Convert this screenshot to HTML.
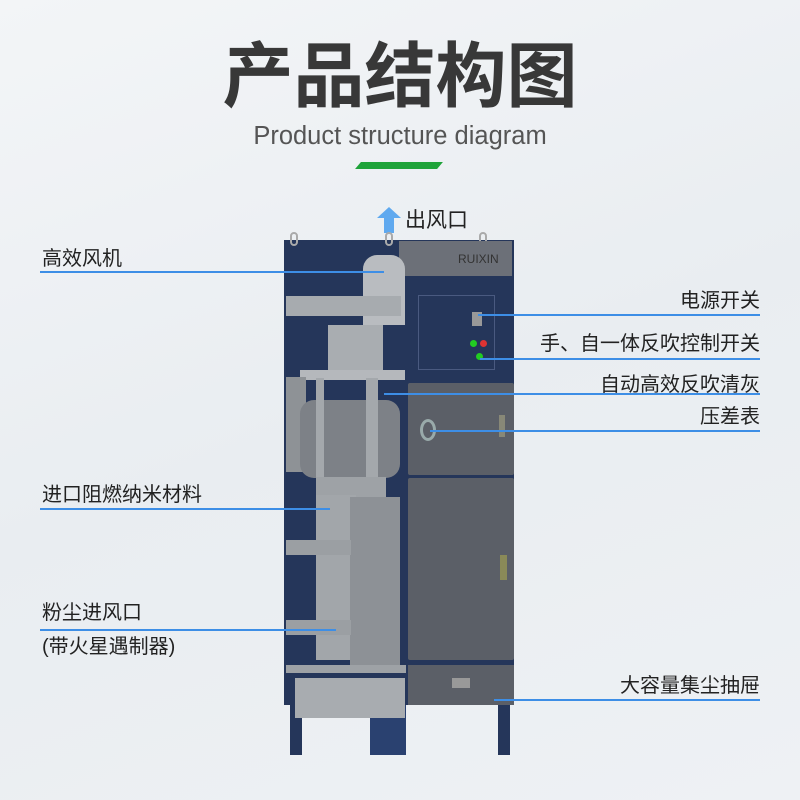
<!DOCTYPE html>
<html><head><meta charset="utf-8"><style>
*{margin:0;padding:0;box-sizing:border-box}
body{width:800px;height:800px;position:relative;overflow:hidden;background:linear-gradient(160deg,#f3f5f7 0%,#e9edf1 50%,#eef1f4 100%);font-family:"Liberation Sans","Noto Sans CJK SC",sans-serif}
.a{position:absolute}
.t{position:absolute;font-size:20px;color:#222;white-space:nowrap;line-height:1}
.l{position:absolute;height:2px;background:#3d8ee6}
</style></head><body>
<div class="a" style="left:0;top:38px;width:800px;text-align:center;font-size:71px;font-weight:bold;color:#383838;letter-spacing:0px;line-height:80px">产品结构图</div>
<div class="a" style="left:0;top:120px;width:800px;text-align:center;font-size:25.5px;color:#555;line-height:32px">Product structure diagram</div>
<div class="a" style="left:358px;top:162px;width:82px;height:7px;background:#1fa33a;transform:skewX(-40deg)"></div>
<!-- arrow -->
<svg class="a" style="left:377px;top:207px" width="24" height="26"><polygon points="12,0 24,11 17,11 17,26 7,26 7,11 0,11" fill="#5fa9ef"/></svg>
<div class="t" style="left:405px;top:210px;font-size:21px">出风口</div>
<!-- cabinet -->
<div class="a" style="left:284px;top:240px;width:230px;height:465px;background:#25365a"></div>
<div class="a" style="left:290px;top:705px;width:12px;height:50px;background:#25365a"></div>
<div class="a" style="left:370px;top:705px;width:36px;height:50px;background:#2a4170"></div>
<div class="a" style="left:498px;top:705px;width:12px;height:50px;background:#25365a"></div>
<div class="a" style="left:290px;top:232px;width:8px;height:14px;border:2px solid #aaa;border-radius:4px"></div>
<div class="a" style="left:385px;top:232px;width:8px;height:14px;border:2px solid #aaa;border-radius:4px"></div>
<div class="a" style="left:479px;top:232px;width:8px;height:14px;border:2px solid #aaa;border-radius:4px"></div>
<!-- right header -->
<div class="a" style="left:399px;top:241px;width:113px;height:35px;background:#6c7078"></div>
<div class="a" style="left:458px;top:252px;font-size:12px;color:#333">RUIXIN</div>
<div class="a" style="left:418px;top:295px;width:77px;height:75px;border:1px solid #4a5a80"></div>
<div class="a" style="left:472px;top:312px;width:10px;height:14px;background:#999"></div>
<div class="a" style="left:470px;top:340px;width:7px;height:7px;border-radius:50%;background:#2c2"></div>
<div class="a" style="left:480px;top:340px;width:7px;height:7px;border-radius:50%;background:#d33"></div>
<div class="a" style="left:476px;top:353px;width:7px;height:7px;border-radius:50%;background:#2c2"></div>
<div class="a" style="left:408px;top:383px;width:106px;height:92px;background:#5b5f67;border-radius:2px"></div>
<div class="a" style="left:420px;top:419px;width:16px;height:22px;border:3px solid #9aa;border-radius:50%"></div>
<div class="a" style="left:499px;top:415px;width:6px;height:22px;background:#887"></div>
<div class="a" style="left:408px;top:478px;width:106px;height:182px;background:#5b5f67;border-radius:2px"></div>
<div class="a" style="left:500px;top:555px;width:7px;height:25px;background:#8a8a58"></div>
<div class="a" style="left:408px;top:665px;width:106px;height:40px;background:#5b5f67"></div>
<div class="a" style="left:452px;top:678px;width:18px;height:10px;background:#999"></div>
<!-- left internals -->
<div class="a" style="left:363px;top:255px;width:42px;height:70px;background:#b9bcc0;border-radius:14px 14px 0 0"></div>
<div class="a" style="left:286px;top:296px;width:115px;height:20px;background:#a7abaf"></div>
<div class="a" style="left:328px;top:325px;width:55px;height:45px;background:#a9adb1"></div>
<div class="a" style="left:300px;top:370px;width:105px;height:10px;background:#b5b8bc"></div>
<div class="a" style="left:286px;top:377px;width:20px;height:95px;background:#8e9296"></div>
<div class="a" style="left:300px;top:400px;width:100px;height:78px;background:#7d8187;border-radius:14px"></div>
<div class="a" style="left:316px;top:378px;width:8px;height:100px;background:#a4a8ac"></div>
<div class="a" style="left:366px;top:378px;width:12px;height:100px;background:#a4a8ac"></div>
<div class="a" style="left:316px;top:477px;width:70px;height:20px;background:#9ea2a6"></div>
<div class="a" style="left:316px;top:495px;width:40px;height:165px;background:#a2a6aa"></div>
<div class="a" style="left:350px;top:497px;width:50px;height:170px;background:#8d9196"></div>
<div class="a" style="left:286px;top:540px;width:65px;height:15px;background:#9b9fa3"></div>
<div class="a" style="left:286px;top:620px;width:65px;height:15px;background:#9b9fa3"></div>
<div class="a" style="left:286px;top:665px;width:120px;height:8px;background:#9ea2a6"></div>
<div class="a" style="left:295px;top:678px;width:110px;height:40px;background:#a8acb0"></div>
<!-- labels -->
<div class="t" style="left:42px;top:249px">高效风机</div>
<div class="l" style="left:40px;top:271px;width:344px"></div>
<div class="t" style="left:42px;top:485px">进口阻燃纳米材料</div>
<div class="l" style="left:40px;top:508px;width:290px"></div>
<div class="t" style="left:42px;top:603px">粉尘进风口</div>
<div class="l" style="left:40px;top:629px;width:296px"></div>
<div class="t" style="left:42px;top:637px">(带火星遇制器)</div>
<div class="t" style="right:40px;top:291px">电源开关</div>
<div class="l" style="left:478px;top:314px;width:282px"></div>
<div class="t" style="right:40px;top:334px">手、自一体反吹控制开关</div>
<div class="l" style="left:480px;top:358px;width:280px"></div>
<div class="t" style="right:40px;top:375px">自动高效反吹清灰</div>
<div class="l" style="left:384px;top:393px;width:376px"></div>
<div class="t" style="right:40px;top:407px">压差表</div>
<div class="l" style="left:430px;top:430px;width:330px"></div>
<div class="t" style="right:40px;top:676px">大容量集尘抽屉</div>
<div class="l" style="left:494px;top:699px;width:266px"></div>
</body></html>
